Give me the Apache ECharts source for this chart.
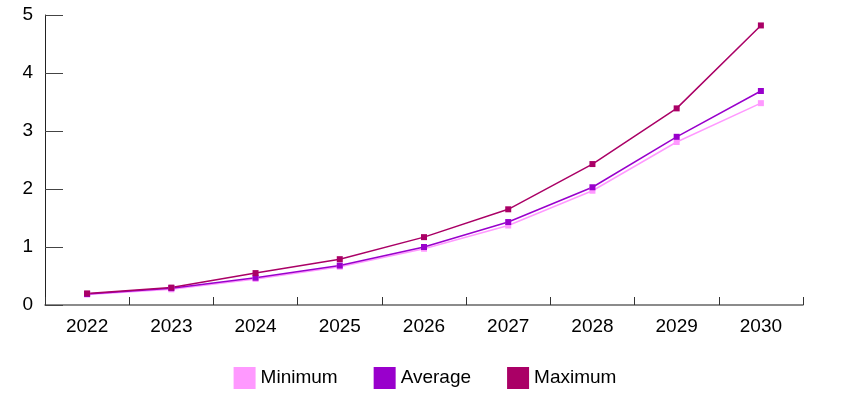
<!DOCTYPE html>
<html>
<head>
<meta charset="utf-8">
<script src="https://cdn.jsdelivr.net/npm/echarts@6/dist/echarts.min.js"></script>
<style>
  html, body { margin: 0; padding: 0; background: #fff; }
  #chart { width: 850px; height: 399px; }
</style>
</head>
<body>
<div id="chart"></div>
<script>
var years = ['2022', '2023', '2024', '2025', '2026', '2027', '2028', '2029', '2030'];
var minimum = [0.18, 0.27, 0.45, 0.66, 0.97, 1.37, 1.97, 2.81, 3.48];
var average = [0.19, 0.29, 0.47, 0.68, 1.0, 1.43, 2.03, 2.9, 3.69];
var maximum = [0.2, 0.3, 0.55, 0.79, 1.17, 1.65, 2.43, 3.39, 4.82];

var colors = ['#ff99ff', '#9900cc', '#aa0066'];
var font = 'Liberation Sans, Arial, sans-serif';

function line(name, data) {
    return {
        name: name,
        type: 'line',
        data: data,
        symbol: 'rect',
        symbolSize: 6,
        showSymbol: true,
        lineStyle: { width: 1.5 },
        emphasis: { disabled: true }
    };
}

var chart = echarts.init(document.getElementById('chart'));
chart.setOption({
    animation: false,
    color: colors,
    grid: { left: 45, right: 47, top: 15, bottom: 94 },
    legend: {
        top: 362,
        left: 'center',
        itemWidth: 22,
        itemHeight: 22,
        itemGap: 36,
        icon: 'rect',
        textStyle: { fontFamily: font, fontSize: 19, color: '#000' },
        data: ['Minimum', 'Average', 'Maximum']
    },
    xAxis: {
        type: 'category',
        data: years,
        boundaryGap: true,
        axisLine: { lineStyle: { color: '#666', width: 1.5 } },
        axisTick: { show: true, inside: true, length: 8, interval: 0, lineStyle: { color: '#333', width: 1 } },
        axisLabel: { fontFamily: font, fontSize: 19, color: '#000', margin: 12 }
    },
    yAxis: {
        type: 'value',
        min: 0,
        max: 5,
        interval: 1,
        splitLine: { show: false },
        axisLine: { show: true, lineStyle: { color: '#222', width: 1 } },
        axisTick: { show: true, inside: true, length: 18, lineStyle: { color: '#444' } },
        axisLabel: { fontFamily: font, fontSize: 19, color: '#000', margin: 12 }
    },
    series: [
        line('Minimum', minimum),
        line('Average', average),
        line('Maximum', maximum)
    ]
});
</script>
</body>
</html>
